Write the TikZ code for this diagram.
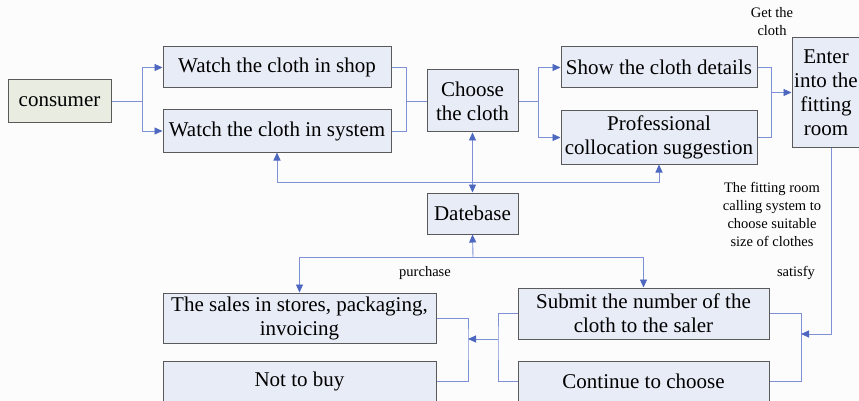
\documentclass[tikz,border=0pt]{standalone}
\usepackage{fontspec}
\setmainfont{Liberation Serif}
\usetikzlibrary{arrows.meta}
\definecolor{boxfill}{HTML}{E8ECF6}
\definecolor{consfill}{HTML}{E9ECE1}
\definecolor{boxdraw}{HTML}{5A5A5A}
\definecolor{linecol}{HTML}{7E91D6}
\definecolor{tipcol}{HTML}{4E68C0}
\definecolor{bgcol}{HTML}{FCFCFC}
\tikzset{
  box/.style={draw=boxdraw, fill=boxfill, line width=1pt, inner sep=0pt, align=center,
    font=\fontsize{21}{24}\selectfont},
  conn/.style={draw=linecol, line width=0.9pt},
  arr/.style={conn, -{Triangle[length=8pt,width=7pt,fill=tipcol,color=tipcol]}},
  darr/.style={conn, {Triangle[length=8pt,width=7pt,fill=tipcol,color=tipcol]}-{Triangle[length=8pt,width=7pt,fill=tipcol,color=tipcol]}},
  lbl/.style={align=center, inner sep=0pt, font=\fontsize{14.5}{18}\selectfont}
}
\begin{document}
\begin{tikzpicture}[x=1pt,y=-1pt]
\fill[bgcol] (0,0) rectangle (859,401);
\useasboundingbox (0,0) rectangle (859,401);
% nodes
\node[box, fill=consfill, minimum width=103pt, minimum height=43pt] (cons) at (59.5,101.5) {consumer};
\node[box, minimum width=228pt, minimum height=41pt] (shop) at (277,67.5) {Watch the cloth in shop};
\node[box, minimum width=228pt, minimum height=42pt] (sys) at (277,131) {Watch the cloth in system};
\node[box, minimum width=91pt, minimum height=62pt] (choose) at (472.5,101) {Choose\\the cloth};
\node[box, minimum width=196pt, minimum height=41pt] (show) at (659,67.5) {Show the cloth details};
\node[box, minimum width=196pt, minimum height=53pt] (prof) at (659,137.5) {Professional\\collocation suggestion};
\node[box, minimum width=76pt, minimum height=109pt] (enter) at (830,92.5) {};
\node[box, draw=none, fill=none] (entertext) at (826,92.5) {Enter\\into the\\fitting\\room};
\node[box, minimum width=91pt, minimum height=41pt] (db) at (472.5,213.5) {Datebase};
\node[box, minimum width=273pt, minimum height=50pt] (sales) at (299.5,318) {The sales in stores, packaging,\\invoicing};
\node[box, minimum width=273pt, minimum height=40pt] (nobuy) at (299.5,381) {Not to buy};
\node[box, minimum width=251pt, minimum height=51pt] (submit) at (643.5,313.5) {Submit the number of the\\cloth to the saler};
\node[box, minimum width=251pt, minimum height=40pt] (cont) at (643.5,381) {Continue to choose};
% labels
\node[lbl] (lget) at (772,22) {Get the\\cloth};
\node[lbl] (lfit) at (772,214) {The fitting room\\calling system to\\choose suitable\\size of clothes};
\node[lbl] (lsat) at (796,273) {satisfy};
\node[lbl] (lpur) at (425,273) {purchase};
% junctions
\coordinate (j1) at (142,101.5);
\coordinate (j2) at (406,101);
\coordinate (j3) at (538,101);
\coordinate (j4) at (771,92.5);
\coordinate (j5) at (277,182);
\coordinate (j7) at (473,257);
\coordinate (L1) at (468,339);
\coordinate (L2) at (498,339);
\coordinate (R1) at (801,334);
% connectors
\draw[conn] (cons.east) -- (j1);
\draw[arr] (j1) |- (shop.west);
\draw[arr] (j1) |- (sys.west);
\draw[conn] (shop.east) -| (j2);
\draw[conn] (sys.east) -| (j2);
\draw[conn] (j2) -- (choose.west);
\draw[conn] (choose.east) -- (j3);
\draw[arr] (j3) |- (show.west);
\draw[arr] (j3) |- (prof.west);
\draw[conn] (show.east) -| (j4);
\draw[conn] (prof.east) -| (j4);
\draw[arr] (j4) -- (enter.west |- j4);
\draw[darr] (choose.south) -- (db.north);
\draw[darr] (sys.south) -- (sys.south |- j5) -- (prof.south |- j5) -- (prof.south);
\draw[darr] (sales.north) -- (sales.north |- j7) -- (submit.north |- j7) -- (submit.north);
\draw[arr] (j7) -- (db.south);
\draw[conn] (sales.east) -| (L1) |- (nobuy.east);
\draw[conn] (submit.west) -| (L2) |- (cont.west);
\draw[arr] (L2) -- (L1);
\draw[conn] (submit.east) -| (R1) |- (cont.east);
\draw[arr] ([xshift=1pt]enter.south) |- (R1);
\end{tikzpicture}
\end{document}
